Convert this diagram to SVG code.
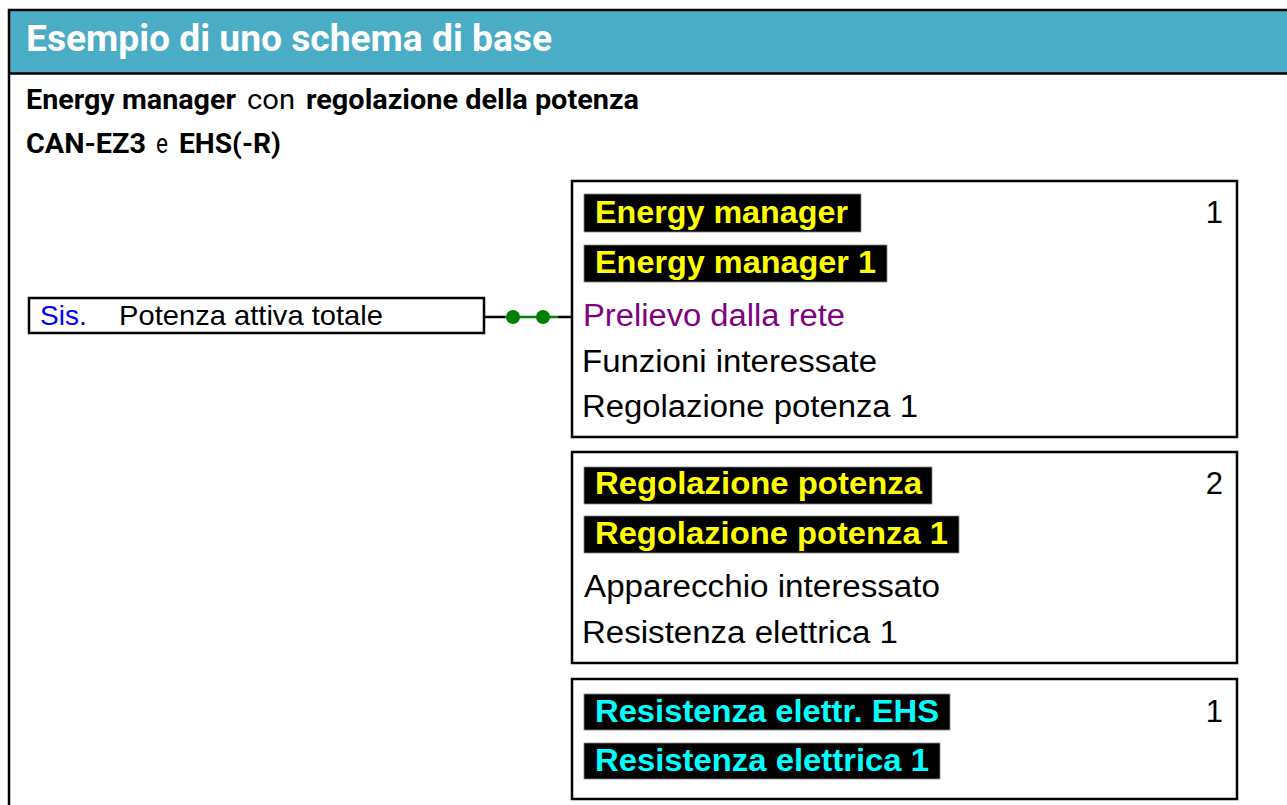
<svg xmlns="http://www.w3.org/2000/svg" width="1287" height="805" viewBox="0 0 1287 805">
<defs>
<style>
.frame{fill:none;stroke:#000;stroke-width:2.5}
.box{fill:#fff;stroke:#000;stroke-width:2.5}
.hl{fill:#000;stroke:#888;stroke-width:0.8}
.title{font-family:Roboto,"Liberation Sans",sans-serif;font-weight:bold;font-size:36px;fill:#fff}
.sub{font-family:Roboto,"Liberation Sans",sans-serif;font-size:28px;fill:#000}
.b{font-weight:bold}
.t{font-family:"Liberation Sans",Arial,sans-serif;font-size:31px;fill:#000}
.ht{font-family:"Liberation Sans",Arial,sans-serif;font-size:31px;font-weight:bold}
.y{fill:#ffff00}
.c{fill:#00ffff}
.lt{font-family:"Liberation Sans",Arial,sans-serif;font-size:28px;fill:#000}
</style>
</defs>
<g id="frame">
<rect x="9" y="10" width="1290" height="810" fill="#fff"/>
<rect x="9" y="10" width="1290" height="63" fill="#4bacc6"/>
<line x1="9" y1="73.5" x2="1290" y2="73.5" stroke="#000" stroke-width="2.5"/>
<rect class="frame" x="9" y="10" width="1290" height="810"/>
<text class="title" x="26" y="51" textLength="526" lengthAdjust="spacingAndGlyphs">Esempio di uno schema di base</text>
<text class="sub b" x="26" y="109" textLength="210" lengthAdjust="spacingAndGlyphs">Energy manager</text>
<text class="sub" x="247" y="109" textLength="48" lengthAdjust="spacingAndGlyphs">con</text>
<text class="sub b" x="306" y="109" textLength="333" lengthAdjust="spacingAndGlyphs">regolazione della potenza</text>
<text class="sub b" x="26" y="153" textLength="120" lengthAdjust="spacingAndGlyphs">CAN-EZ3</text>
<text class="sub" x="156" y="153" textLength="12" lengthAdjust="spacingAndGlyphs">e</text>
<text class="sub b" x="179" y="153" textLength="102" lengthAdjust="spacingAndGlyphs">EHS(-R)</text>
</g>
<g id="connectors">
<line x1="484" y1="317" x2="505" y2="317" stroke="#000" stroke-width="2.5"/>
<line x1="505" y1="317" x2="558" y2="317" stroke="#008000" stroke-width="2.5"/>
<line x1="558" y1="317" x2="572" y2="317" stroke="#000" stroke-width="2.5"/>
<circle cx="513" cy="317" r="7" fill="#008000"/>
<circle cx="543" cy="317" r="7" fill="#008000"/>
</g>
<g id="input-sis">
<rect class="box" x="29" y="298" width="455" height="35"/>
<text class="lt" x="40" y="325" style="fill:#0000ff">Sis.</text>
<text class="lt" x="119" y="325" textLength="264" lengthAdjust="spacingAndGlyphs">Potenza attiva totale</text>
</g>
<g id="node-energy-manager">
<rect class="box" x="572" y="181" width="665" height="256"/>
<rect class="hl" x="584" y="194" width="277" height="38"/>
<text class="ht y" x="595" y="223" textLength="253" lengthAdjust="spacingAndGlyphs">Energy manager</text>
<text class="t" x="1223" y="223" text-anchor="end">1</text>
<rect class="hl" x="584" y="245" width="303" height="37"/>
<text class="ht y" x="595" y="273" textLength="281" lengthAdjust="spacingAndGlyphs">Energy manager 1</text>
<text class="t" x="583" y="326" style="fill:#800080" textLength="262" lengthAdjust="spacingAndGlyphs">Prelievo dalla rete</text>
<text class="t" x="582" y="372" textLength="295" lengthAdjust="spacingAndGlyphs">Funzioni interessate</text>
<text class="t" x="582" y="417" textLength="336" lengthAdjust="spacingAndGlyphs">Regolazione potenza 1</text>
</g>
<g id="node-regolazione-potenza">
<rect class="box" x="572" y="452" width="665" height="211"/>
<rect class="hl" x="584" y="467" width="348" height="37"/>
<text class="ht y" x="595" y="494" textLength="327" lengthAdjust="spacingAndGlyphs">Regolazione potenza</text>
<text class="t" x="1223" y="494" text-anchor="end">2</text>
<rect class="hl" x="584" y="516" width="375" height="37"/>
<text class="ht y" x="595" y="544" textLength="353" lengthAdjust="spacingAndGlyphs">Regolazione potenza 1</text>
<text class="t" x="584" y="597" textLength="356" lengthAdjust="spacingAndGlyphs">Apparecchio interessato</text>
<text class="t" x="582" y="643" textLength="316" lengthAdjust="spacingAndGlyphs">Resistenza elettrica 1</text>
</g>
<g id="node-resistenza">
<rect class="box" x="572" y="679" width="665" height="120"/>
<rect class="hl" x="584" y="694" width="366" height="36"/>
<text class="ht c" x="595" y="722" textLength="344" lengthAdjust="spacingAndGlyphs">Resistenza elettr. EHS</text>
<text class="t" x="1223" y="722" text-anchor="end">1</text>
<rect class="hl" x="584" y="743" width="356" height="36"/>
<text class="ht c" x="595" y="771" textLength="334" lengthAdjust="spacingAndGlyphs">Resistenza elettrica 1</text>
</g>
</svg>
